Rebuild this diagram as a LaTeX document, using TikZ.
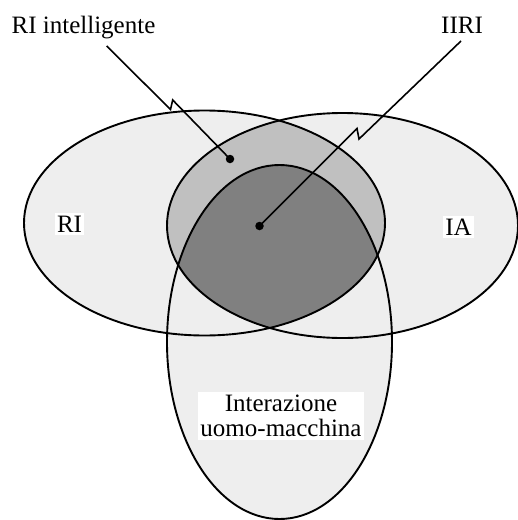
\documentclass[tikz,border=0pt]{standalone}
\usepackage{fontspec}
\setmainfont{Liberation Serif}
\definecolor{setlight}{gray}{0.933}
\definecolor{setmid}{gray}{0.753}
\definecolor{setdark}{gray}{0.502}
\begin{document}
\begin{tikzpicture}[x=1pt,y=-1pt,
  outline/.style={draw=black, line width=1.9pt},
  txt/.style={inner sep=0pt, font=\fontsize{25}{24.5}\selectfont},
  tag/.style={txt, fill=white, inner xsep=2pt, inner ysep=3pt},
  leader/.style={draw=black, line width=1.6pt, line join=miter},
  dotmark/.style={circle, fill=black, inner sep=0pt, minimum size=8.5pt}]
\useasboundingbox (0,0) rectangle (518,520);

% the three sets, light fill
\fill[setlight] (204.5,223) ellipse [x radius=180.5, y radius=112.5];
\fill[setlight] (342.5,225.5) ellipse [x radius=175.5, y radius=112.5];
\fill[setlight] (279.5,342) ellipse [x radius=112.5, y radius=177];

% RI and IA overlap
\begin{scope}
  \clip (204.5,223) ellipse [x radius=180.5, y radius=112.5];
  \fill[setmid] (342.5,225.5) ellipse [x radius=175.5, y radius=112.5];
\end{scope}

% overlap of all three
\begin{scope}
  \clip (204.5,223) ellipse [x radius=180.5, y radius=112.5];
  \clip (342.5,225.5) ellipse [x radius=175.5, y radius=112.5];
  \fill[setdark] (279.5,342) ellipse [x radius=112.5, y radius=177];
\end{scope}

% outlines
\draw[outline] (204.5,223) ellipse [x radius=180.5, y radius=112.5];
\draw[outline] (342.5,225.5) ellipse [x radius=175.5, y radius=112.5];
\draw[outline] (279.5,342) ellipse [x radius=112.5, y radius=177];

% set names
\node[tag, anchor=base] (ri) at (69.5,232.3) {RI};
\node[tag, anchor=base] (ia) at (458.5,235) {IA};
\node[tag, align=center] (hmi) at (281,416) {Interazione\\uomo-macchina};

% region labels with leaders
\node[txt, anchor=base] (intl) at (83.5,33.3) {RI intelligente};
\node[txt, anchor=base] (iiri) at (462,33.3) {IIRI};

\node[dotmark] (d1) at (230,159) {};
\node[dotmark] (d2) at (259.5,226) {};

\coordinate (a1) at (106.7,46);
\coordinate (a2) at (170.5,109.5);
\coordinate (a3) at (172.7,100);
\coordinate (b1) at (461,41);
\coordinate (b2) at (359,139);
\coordinate (b3) at (357,128.5);

\draw[leader] (a1) -- (a2) -- (a3) -- (d1.center);
\draw[leader] (b1) -- (b2) -- (b3) -- (d2.center);
\end{tikzpicture}
\end{document}
